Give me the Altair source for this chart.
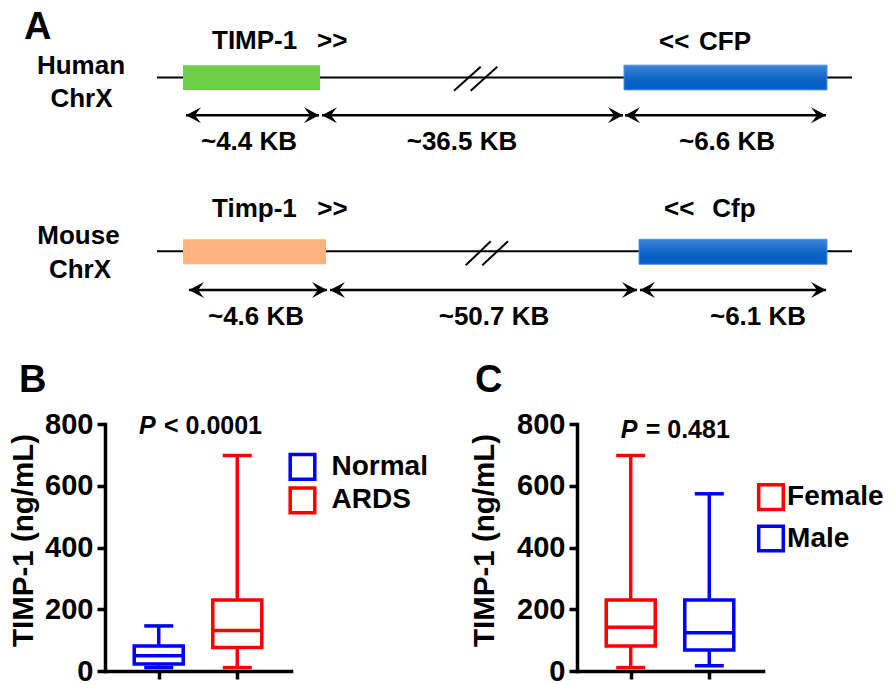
import altair as alt
import pandas as pd

FONT = "Liberation Sans"

# ---------------- values ----------------
species = ["Human", "Mouse"]
chromosome = ["ChrX", "ChrX"]
left_gene = ["TIMP-1", "Timp-1"]
right_gene = ["CFP", "Cfp"]
span_labels = [["~4.4 KB", "~36.5 KB", "~6.6 KB"], ["~4.6 KB", "~50.7 KB", "~6.1 KB"]]
left_gene_color = ["#6CCF46", "#FDB280"]

b_groups = ["Normal", "ARDS"]
b_colors = ["#0000FF", "#FF0000"]
b_min = [11, 11]
b_q1 = [23, 76]
b_med = [49, 131]
b_q3 = [81, 230]
b_max = [146, 698]
b_p = ["P", "< 0.0001"]

c_groups = ["Female", "Male"]
c_colors = ["#FF0000", "#0000FF"]
c_min = [11, 17]
c_q1 = [81, 68]
c_med = [142, 124]
c_q3 = [230, 230]
c_max = [698, 574]
c_p = ["P", "= 0.481"]

y_ticks = [0, 200, 400, 600, 800]
y_title = "TIMP-1 (ng/mL)"

# ---------------- schematic layout (diagram units) ----------------
track_y = [69.3, 245.0]
track_x = (153, 848)
left_box = [(179, 316), (179, 322)]
right_box = [(620, 823), (635, 823)]
box_y = [(56.8, 81.8), (233.0, 258.3)]
arrow_y = [107.5, 284.3]
arrow_segs = [[(182, 315), (318, 619), (621, 822)], [(185, 323), (326, 633), (636, 822)]]
span_x = [[245, 458, 723], [252, 490, 754]]
span_y = [143, 320]
breaks = [[(450, 82.7, 476.7, 58.3), (466.7, 82.7, 493.3, 58.3)],
          [(461.7, 259.3, 486.7, 235), (478.3, 259.3, 504, 235)]]
species_xy = [[(77, 66), (77.5, 99)], [(74.5, 238), (76, 271.7)]]
left_label = [((208, 40.7), (313, 40.7)), ((208, 210), (313.3, 210))]
right_label = [((655, 41.7), (695, 41.7)), ((660, 210), (708.3, 210))]
HEAD = 7.5

xs = alt.Scale(domain=[101, 882], zero=False, nice=False)
ys = alt.Scale(domain=[5, 345], zero=False, nice=False, reverse=True)
X = lambda f="x": alt.X(f + ":Q", scale=xs, axis=None)
Y = lambda f="y": alt.Y(f + ":Q", scale=ys, axis=None)

tracks = pd.DataFrame([{"x": track_x[0], "x2": track_x[1], "y": track_y[i]} for i in range(2)])
gl = pd.DataFrame([{"x": left_box[i][0], "x2": left_box[i][1], "y": box_y[i][0], "y2": box_y[i][1],
                    "fill": left_gene_color[i]} for i in range(2)])
gr = pd.DataFrame([{"x": right_box[i][0], "x2": right_box[i][1], "y": box_y[i][0], "y2": box_y[i][1]} for i in range(2)])
shafts = pd.DataFrame([{"x": a, "x2": b, "y": arrow_y[i]} for i in range(2) for a, b in arrow_segs[i]])
heads_r = pd.DataFrame([{"x": b - HEAD, "y": arrow_y[i]} for i in range(2) for a, b in arrow_segs[i]])
heads_l = pd.DataFrame([{"x": a + HEAD, "y": arrow_y[i]} for i in range(2) for a, b in arrow_segs[i]])
slashes = pd.DataFrame([{"x": s[0], "y": s[1], "x2": s[2], "y2": s[3]} for i in range(2) for s in breaks[i]])
sp_txt = pd.DataFrame([{"x": species_xy[i][j][0], "y": species_xy[i][j][1], "t": [species[i], chromosome[i]][j]}
                       for i in range(2) for j in range(2)])
gene_txt = pd.DataFrame(
    [{"x": left_label[i][0][0], "y": left_label[i][0][1], "t": left_gene[i]} for i in range(2)]
    + [{"x": left_label[i][1][0], "y": left_label[i][1][1], "t": ">>"} for i in range(2)]
    + [{"x": right_label[i][0][0], "y": right_label[i][0][1], "t": "<<"} for i in range(2)]
    + [{"x": right_label[i][1][0], "y": right_label[i][1][1], "t": right_gene[i]} for i in range(2)])
span_txt = pd.DataFrame([{"x": span_x[i][j], "y": span_y[i], "t": span_labels[i][j]} for i in range(2) for j in range(3)])
letter_a = pd.DataFrame([{"x": 20, "y": 30, "t": "A"}])

txt = dict(font=FONT, fontWeight="bold", color="black", baseline="alphabetic")
blue_grad = alt.LinearGradient(gradient="linear", x1=0, x2=0, y1=0, y2=1,
                               stops=[alt.GradientStop(color="#3C86D8", offset=0),
                                      alt.GradientStop(color="#0A62C6", offset=0.6),
                                      alt.GradientStop(color="#085EC2", offset=1)])

panel_a = alt.layer(
    alt.Chart(tracks).mark_rule(color="black", strokeWidth=2).encode(x=X(), x2="x2:Q", y=Y()),
    alt.Chart(slashes).mark_rule(color="black", strokeWidth=2).encode(x=X(), x2="x2:Q", y=Y(), y2="y2:Q"),
    alt.Chart(gl).mark_rect().encode(x=X(), x2="x2:Q", y=Y(), y2="y2:Q", fill=alt.Fill("fill:N", scale=None)),
    alt.Chart(gr).mark_rect(fill=blue_grad, stroke="#4A90E0", strokeWidth=1).encode(x=X(), x2="x2:Q", y=Y(), y2="y2:Q"),
    alt.Chart(shafts).mark_rule(color="black", strokeWidth=2.5).encode(x=X(), x2="x2:Q", y=Y()),
    alt.Chart(heads_r).mark_point(shape="M1,0 L-1,-1.07 L-0.2,0 L-1,1.07 Z", filled=True, size=225,
                                  color="black", opacity=1, strokeWidth=0).encode(x=X(), y=Y()),
    alt.Chart(heads_l).mark_point(shape="M-1,0 L1,-1.07 L0.2,0 L1,1.07 Z", filled=True, size=225,
                                  color="black", opacity=1, strokeWidth=0).encode(x=X(), y=Y()),
    alt.Chart(sp_txt).mark_text(align="center", fontSize=26, **txt).encode(x=X(), y=Y(), text="t:N"),
    alt.Chart(gene_txt).mark_text(align="left", fontSize=26, **txt).encode(x=X(), y=Y(), text="t:N"),
    alt.Chart(span_txt).mark_text(align="center", fontSize=26, **txt).encode(x=X(), y=Y(), text="t:N"),
    alt.Chart(letter_a).mark_text(align="left", fontSize=38, **txt).encode(x=X(), y=Y(), text="t:N"),
).properties(width=781, height=336)

# hollow square legend symbol (outer ring with a square hole)
RING = "M-1,-1 H1 V1 H-1 Z M-0.75,-0.75 V0.75 H0.75 V-0.75 Z"


def box_panel(groups, colors, lo, q1, med, q3, hi, p_parts, p_x, p_y, letter, letter_x,
              legend_x, legend_y, label_offset, row_padding, title_x):
    df = pd.DataFrame(dict(group=groups, lo=lo, q1=q1, med=med, q3=q3, hi=hi))
    xenc = alt.X("group:N", sort=groups, scale=alt.Scale(type="point", padding=0.684),
                 axis=alt.Axis(title=None, labels=False, ticks=True, tickSize=8, tickWidth=3.5,
                               tickColor="black", domainColor="black", domainWidth=3.5, domainCap="square"))
    ysc = alt.Scale(domain=[0, 800], nice=False)
    yaxis = alt.Axis(values=y_ticks, title=y_title, titleFontSize=29.5, titleFont=FONT, titleFontWeight="bold",
                     titleColor="black", titleAngle=270, titleX=title_x, titleY=116, titleAlign="center",
                     titleBaseline="middle", labelFontSize=29, labelFont=FONT, labelFontWeight="bold",
                     labelColor="black", labelPadding=4, tickSize=8, tickWidth=3.5, tickColor="black",
                     domainColor="black", domainWidth=3.5, domainCap="square", grid=False)
    legend = alt.Legend(title=None, orient="none", legendX=legend_x, legendY=legend_y, symbolType=RING,
                        symbolSize=790, symbolStrokeWidth=0,
                        labelFontSize=28, labelFont=FONT,
                        labelFontWeight="bold", labelColor="black", labelOffset=label_offset,
                        rowPadding=row_padding, padding=0)
    cs = alt.Scale(domain=groups, range=colors)
    stroke = alt.Stroke("group:N", sort=groups, scale=cs, legend=legend)
    col = alt.Color("group:N", sort=groups, scale=cs, legend=None)
    base = alt.Chart(df)
    box = base.mark_bar(fill="transparent", size=49, strokeWidth=3.5).encode(
        x=xenc, y=alt.Y("q1:Q", scale=ysc, axis=yaxis), y2="q3:Q", stroke=stroke)
    lower = base.mark_rule(strokeWidth=3.5).encode(x=xenc, y=alt.Y("lo:Q", scale=ysc, axis=yaxis), y2="q1:Q", color=col)
    upper = base.mark_rule(strokeWidth=3.5).encode(x=xenc, y=alt.Y("q3:Q", scale=ysc, axis=yaxis), y2="hi:Q", color=col)
    cap_lo = base.mark_tick(size=29, thickness=3.5, opacity=1).encode(x=xenc, y=alt.Y("lo:Q", scale=ysc, axis=yaxis), color=col)
    cap_hi = base.mark_tick(size=29, thickness=3.5, opacity=1).encode(x=xenc, y=alt.Y("hi:Q", scale=ysc, axis=yaxis), color=col)
    median = base.mark_tick(size=49, thickness=3.5, opacity=1).encode(x=xenc, y=alt.Y("med:Q", scale=ysc, axis=yaxis), color=col)
    p1 = alt.Chart(pd.DataFrame({"t": [p_parts[0]]})).mark_text(
        align="left", fontSize=25, fontStyle="italic", **txt).encode(x=alt.value(p_x[0]), y=alt.value(p_y), text="t:N")
    p2 = alt.Chart(pd.DataFrame({"t": [p_parts[1]]})).mark_text(
        align="left", fontSize=25, **txt).encode(x=alt.value(p_x[1]), y=alt.value(p_y), text="t:N")
    let = alt.Chart(pd.DataFrame({"t": [letter]})).mark_text(
        align="left", fontSize=38, **txt).encode(x=alt.value(letter_x), y=alt.value(-32), text="t:N")
    return alt.layer(box, lower, upper, cap_lo, cap_hi, median, p1, p2, let).properties(width=186, height=247)


panel_b = box_panel(b_groups, b_colors, b_min, b_q1, b_med, b_q3, b_max, b_p, (34, 59), 10, "B", -86,
                    183.0, 28.4, 14.5, 4.5, -82)
panel_c = box_panel(c_groups, c_colors, c_min, c_q1, c_med, c_q3, c_max, c_p, (43.7, 68.7), 14, "C", -102,
                    179.5, 58.6, 1.6, 12.4, -93)

bottom = alt.hconcat(panel_b, panel_c, spacing=41).resolve_scale(color="independent", stroke="independent",
                                                                y="independent")
chart = alt.vconcat(panel_a, bottom, spacing=12).properties(padding=0).configure(font=FONT).configure_view(stroke=None)

chart.save("out.html", embed_options={"renderer": "svg", "actions": False})
